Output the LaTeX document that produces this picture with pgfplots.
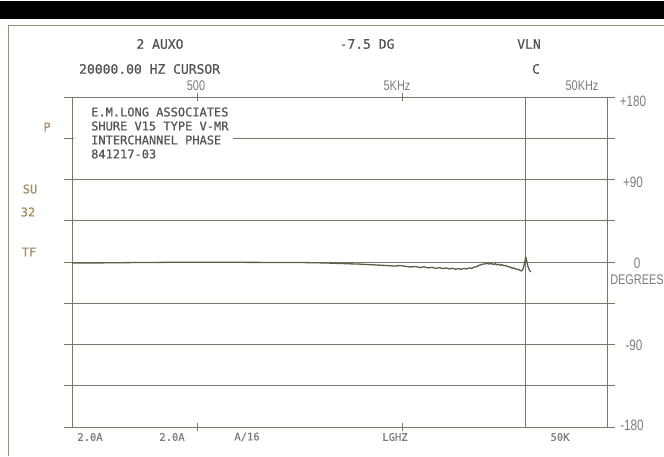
\documentclass[border=0pt]{standalone}
\usepackage{fontspec}
\setmainfont[FakeBold=0.6]{DejaVu Sans Mono}
\newfontfamily\narrow[FakeStretch=0.78]{Liberation Sans}
\usepackage{pgfplots}
\pgfplotsset{compat=1.18}
\definecolor{gridc}{RGB}{118,120,104}
\definecolor{trace}{RGB}{88,94,72}
\definecolor{txt}{RGB}{84,84,80}
\definecolor{tanc}{RGB}{168,138,98}
\definecolor{ltxt}{RGB}{125,125,120}
\definecolor{framec}{RGB}{150,140,120}
\begin{document}
\begin{tikzpicture}[x=1pt,y=1pt]
\path[use as bounding box,fill=white] (0,0) rectangle (664,456);
\fill[black] (0,437) rectangle (664,455);
\draw[framec,line width=0.8pt] (8,0) -- (8,431) -- (664,431);
\begin{axis}[
  at={(72pt,29pt)}, anchor=south west,
  scale only axis, width=535pt, height=330pt,
  xmode=log, xmin=122, xmax=50000,
  ymin=-180, ymax=180,
  ytick={-180,-135,...,180},
  xtick={500,5000},
  xminorticks=false, minor x tick num=0,
  xticklabels={}, yticklabels={},
  tick align=center, tick pos=both,
  major tick length=16pt,
  xtick style={/pgfplots/major tick length=8pt},
  ymajorgrids,
  grid style={gridc, line width=0.7pt},
  axis line style={gridc, line width=1pt},
  every tick/.style={gridc, line width=0.7pt},
  clip=false,
]
\addplot[gridc, line width=0.7pt] coordinates {(20000,-180) (20000,180)};
\addplot[trace, line width=1.3pt, line join=round] coordinates {
(122,-1.2) (160,-1.0) (250,-0.6) (400,-0.3) (600,-0.2) (900,-0.4) (1300,-0.5)
(1600,-0.6) (1900,-0.8) (2200,-1.2) (2500,-1.6) (2800,-2.0) (3100,-2.3)
(3400,-2.8) (3700,-3.2) (4000,-3.6) (4300,-4.0) (4600,-4.4) (4900,-3.8)
(5200,-4.8) (5500,-5.4) (5800,-4.9) (6100,-6.0) (6400,-5.3) (6700,-6.4)
(7000,-5.8) (7300,-6.9) (7600,-6.2) (7900,-7.2) (8200,-6.5) (8500,-7.5)
(8800,-6.9) (9100,-7.9) (9400,-7.1) (9700,-8.0) (10000,-7.0) (10300,-7.6)
(10600,-6.4) (10900,-7.0) (11200,-5.6) (11500,-5.3) (11800,-3.8) (12100,-3.1)
(12400,-2.2) (12700,-2.1) (13000,-1.4) (13300,-2.3) (13600,-1.5) (13900,-2.7)
(14200,-1.9) (14500,-3.1) (14800,-2.3) (15100,-3.7) (15400,-2.9) (15700,-4.2)
(16000,-3.7) (16400,-5.2) (16800,-5.4) (17200,-6.7) (17600,-6.6) (18000,-7.8)
(18400,-8.0) (18800,-9.1) (19200,-9.8) (19500,-7.0) (19800,-1.0) (20050,5.5)
(20300,1.0) (20500,-4.0) (20800,-8.0) (21200,-11.0)
};
\end{axis}
\fill[white] (73.5,296) rectangle (233,352);
\begin{scope}[every node/.style={inner sep=0pt, font=\fontsize{13}{13}\selectfont}]
\node[txt] at (160,412) {2 AUXO};
\node[txt] at (367,412) {-7.5 DG};
\node[txt] at (529,412) {VLN};
\node[txt,anchor=west] at (79,387) {20000.00 HZ CURSOR};
\node[txt] at (536,387) {C};
\node[ltxt,font=\narrow\fontsize{14}{14}\selectfont] at (196,370) {500};
\node[ltxt,font=\narrow\fontsize{14}{14}\selectfont] at (397,370) {5KHz};
\node[ltxt,font=\narrow\fontsize{14}{14}\selectfont] at (582,370) {50KHz};
\node[tanc,font=\fontsize{12}{12}\selectfont] at (47,329) {P};
\node[tanc,font=\fontsize{12}{12}\selectfont] at (30,267) {SU};
\node[tanc,font=\fontsize{12}{12}\selectfont] at (28,244) {32};
\node[tanc,font=\fontsize{12}{12}\selectfont] at (29,204) {TF};
\node[txt,anchor=west,font=\fontsize{12}{12}\selectfont] at (91,344) {E.M.LONG ASSOCIATES};
\node[txt,anchor=west,font=\fontsize{12}{12}\selectfont] at (91,330) {SHURE V15 TYPE V-MR};
\node[txt,anchor=west,font=\fontsize{12}{12}\selectfont] at (91,316) {INTERCHANNEL PHASE};
\node[txt,anchor=west,font=\fontsize{12}{12}\selectfont] at (91,302) {841217-03};
\node[ltxt,font=\narrow\fontsize{15}{15}\selectfont] at (633,355) {+180};
\node[ltxt,font=\narrow\fontsize{15}{15}\selectfont] at (633,274) {+90};
\node[ltxt,font=\narrow\fontsize{15}{15}\selectfont] at (637,193) {0};
\node[ltxt,font=\narrow\fontsize{14}{14}\selectfont] at (637,176) {DEGREES};
\node[ltxt,font=\narrow\fontsize{15}{15}\selectfont] at (634,111) {-90};
\node[ltxt,font=\narrow\fontsize{15}{15}\selectfont] at (632,31) {-180};
\node[ltxt,font=\fontsize{10.5}{10.5}\selectfont] at (90,19) {2.0A};
\node[ltxt,font=\fontsize{10.5}{10.5}\selectfont] at (172,19) {2.0A};
\node[ltxt,font=\fontsize{10.5}{10.5}\selectfont] at (247,19) {A/16};
\node[ltxt,font=\fontsize{10.5}{10.5}\selectfont] at (395,19) {LGHZ};
\node[ltxt,font=\fontsize{10.5}{10.5}\selectfont] at (560,19) {50K};
\end{scope}
\end{tikzpicture}
\end{document}
